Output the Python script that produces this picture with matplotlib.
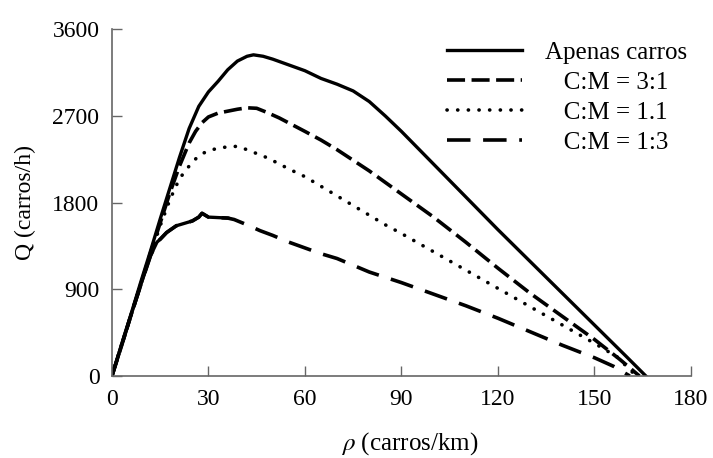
# coding: utf-8
import numpy as np
import matplotlib
matplotlib.use('Agg')
import matplotlib.pyplot as plt

# fluxo x densidade para diferentes proporções carro:moto
rho_carros = [0, 3, 6, 9, 12, 15, 18, 21, 24, 27, 30, 33, 36, 39, 42, 44, 47, 50, 55,
              60, 65, 70, 75, 80, 85, 90, 95, 100, 110, 120, 130, 140, 150, 160, 166]
q_carros = [0, 330, 650, 980, 1300, 1630, 1950, 2270, 2570, 2800, 2950, 3060, 3180, 3270,
            3320, 3335, 3320, 3290, 3230, 3170, 3090, 3030, 2960, 2850, 2700, 2540, 2370,
            2200, 1860, 1520, 1190, 860, 530, 200, 0]

rho_31 = [0, 3, 6, 9, 12, 15, 18, 21, 24, 26, 28, 30, 33, 36, 39, 42, 45, 48, 52, 56,
          60, 65, 70, 75, 80, 85, 90, 100, 110, 120, 130, 140, 150, 158, 164]
q_31 = [0, 315, 640, 955, 1280, 1590, 1900, 2180, 2420, 2540, 2630, 2690, 2730, 2750,
        2770, 2785, 2780, 2740, 2680, 2610, 2540, 2450, 2350, 2240, 2130, 2010, 1890,
        1650, 1390, 1120, 860, 620, 380, 170, 0]

rho_11 = [0, 3, 6, 9, 12, 15, 18, 21, 24, 27, 30, 33, 36, 39, 42, 45, 48, 51, 55, 60,
          65, 70, 75, 80, 85, 90, 100, 110, 120, 130, 140, 150, 157, 163]
q_11 = [0, 325, 635, 960, 1265, 1560, 1830, 2050, 2180, 2290, 2340, 2365, 2380, 2385,
        2350, 2310, 2270, 2220, 2150, 2070, 1970, 1870, 1770, 1670, 1570, 1480, 1290,
        1100, 910, 720, 530, 340, 200, 0]

rho_13 = [0, 3, 6, 9, 12, 14, 15, 17, 20, 23, 25, 27, 28, 30, 33, 36, 38, 42, 46, 50,
          55, 60, 65, 70, 75, 80, 90, 100, 110, 120, 130, 140, 150, 156, 161]
q_13 = [0, 320, 640, 950, 1250, 1390, 1420, 1490, 1560, 1590, 1610, 1650, 1690, 1650,
        1645, 1640, 1625, 1570, 1510, 1460, 1390, 1330, 1270, 1220, 1150, 1080, 970,
        850, 730, 600, 460, 320, 190, 100, 0]

labels = ['Apenas carros', '   C:M = 3:1', '   C:M = 1.1', '   C:M = 1:3']
xticks = [0, 30, 60, 90, 120, 150, 180]
yticks = [0, 900, 1800, 2700, 3600]

plt.rcParams['font.family'] = ['Liberation Serif', 'DejaVu Serif']
plt.rcParams['mathtext.fontset'] = 'stix'

fig = plt.figure(figsize=(7.13, 4.58), dpi=100)
fig.subplots_adjust(left=0.157, right=0.969, bottom=0.179, top=0.936)
ax = fig.add_subplot(1, 1, 1)

ax.plot(rho_carros, q_carros, color='k', lw=2.4, label=labels[0])
ax.plot(rho_31, q_31, color='k', lw=2.6, linestyle=(0, (5, 1.8)), label=labels[1])
ax.plot(rho_11, q_11, color='k', lw=2.6, linestyle=(0, (0.05, 2.9)),
        dash_capstyle='round', label=labels[2])
ax.plot(rho_13, q_13, color='k', lw=2.6, linestyle=(0, (6.5, 3.5)), label=labels[3])

# trecho inicial do 1:3 é denso, aparece contínuo
r13 = np.array(rho_13)
ax.plot(r13[r13 <= 37], np.array(q_13)[r13 <= 37], color='k', lw=2.4)

ax.set_xlim(0, 180)
ax.set_ylim(0, 3600)
ax.set_xticks(xticks)
ax.set_yticks(yticks)

for s in ['top', 'right']:
    ax.spines[s].set_visible(False)
for s in ['left', 'bottom']:
    ax.spines[s].set_color('#666666')
    ax.spines[s].set_linewidth(1.2)

ax.tick_params(direction='in', length=7, width=1, color='#666666',
               labelsize=17, pad=9)

ax.set_xlabel(r'$\rho$ (carros/km)', fontsize=18, labelpad=15, x=0.515)
ax.set_ylabel('Q (carros/h)', fontsize=17, labelpad=12)

ax.legend(loc='upper left', bbox_to_anchor=(0.5786, 0.965), frameon=False,
          fontsize=18, handlelength=3.0, handletextpad=0.92, labelspacing=0.3,
          borderpad=0, borderaxespad=0)

plt.savefig('out.png', dpi=100)
plt.close()
